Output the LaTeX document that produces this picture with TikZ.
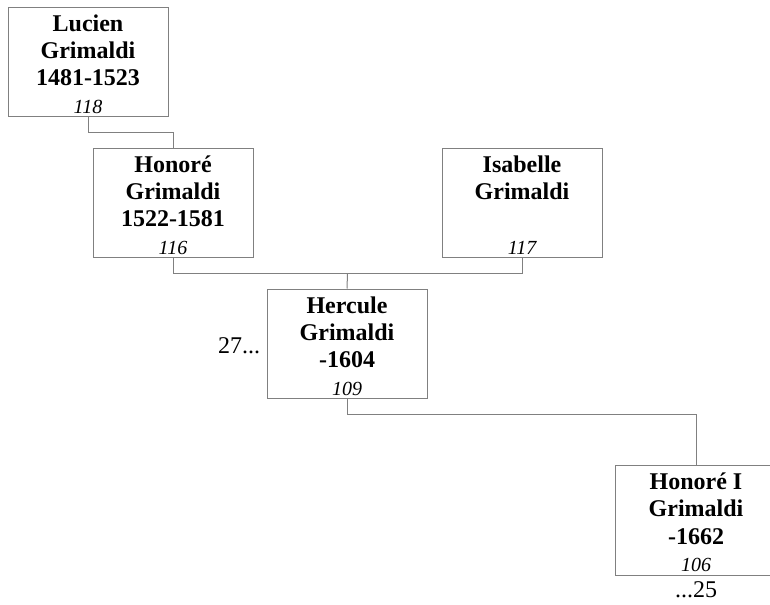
\documentclass[tikz,border=0pt]{standalone}
\usepackage{fontspec}
\setmainfont{Liberation Serif}
\usetikzlibrary{positioning,calc}
\definecolor{linegray}{RGB}{128,128,128}
\newcommand{\gennum}[1]{{\mdseries\itshape\fontsize{15}{20.5}\selectfont #1}}
\newcommand{\pname}[1]{\rule{0pt}{16pt}#1}

\begin{document}
\begin{tikzpicture}[x=0.75pt, y=-0.75pt,
    person/.style={draw=linegray, line width=0.75pt, minimum width=120pt, minimum height=81.75pt,
        inner sep=0pt, align=center, font=\fontsize{18}{20.5}\selectfont\bfseries},
    openbox/.style={person, draw=none},
    link/.style={draw=linegray, line width=0.75pt},
    plain/.style={inner sep=0pt, font=\fontsize{18}{20}\selectfont}]
    \useasboundingbox (0,0) rectangle (770,604);

    \node[person] (lucien) at (88, 61.5) {\pname{Lucien}\\Grimaldi\\1481-1523\\\gennum{118}};
    \node[person] (honore) at (173, 202.5) {\pname{Honoré}\\Grimaldi\\1522-1581\\\gennum{116}};
    \node[person] (isabelle) at (522, 202.5) {\pname{Isabelle}\\Grimaldi\\~\\\gennum{117}};
    \node[person] (hercule) at (347, 343.5) {\pname{Hercule}\\Grimaldi\\-1604\\\gennum{109}};
    % box runs off the right edge of the page
    \node[openbox] (honoreI) at (696, 520) {\pname{Honoré I}\\Grimaldi\\-1662\\\gennum{106}};
    \draw[link] (honoreI.north east) -- (honoreI.north west) -- (honoreI.south west) -- (honoreI.south east);

    \node[plain, left=4.5pt of hercule, yshift=-2pt] (more27) {27...};
    \node[plain, below=5pt of honoreI] (more25) {...25};

    \draw[link] (lucien.south) -- ++(0,16) -| (honore.north);
    \draw[link] (honore.south) -- ++(0,16) -| (isabelle.south);
    \coordinate (parents) at ($(honore.south)!0.5!(isabelle.south)+(0,16)$);
    \draw[link] (parents) -- (hercule.north);
    \draw[link] (hercule.south) -- ++(0,16) -| (honoreI.north);
\end{tikzpicture}
\end{document}
